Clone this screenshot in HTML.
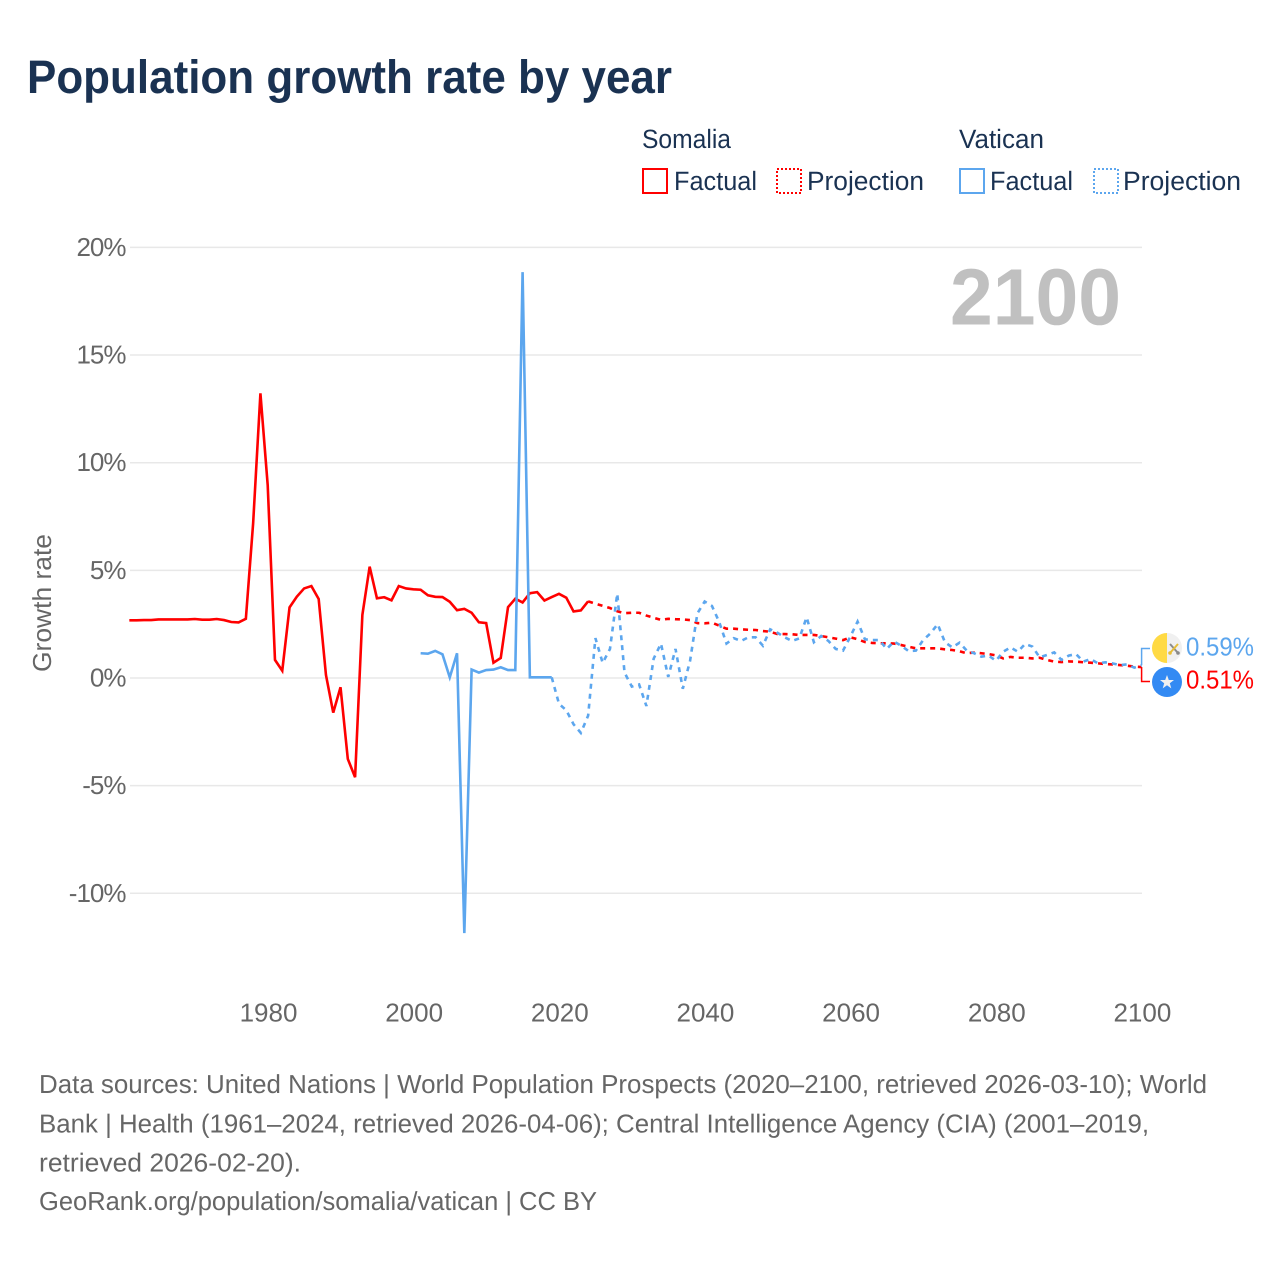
<!DOCTYPE html>
<html lang="en">
<head>
<meta charset="utf-8">
<title>Population growth rate by year</title>
<style>
html,body{margin:0;padding:0;background:#fff;}
svg{display:block;font-family:"Liberation Sans",sans-serif;text-rendering:geometricPrecision;}
</style>
</head>
<body>
<svg id="chart" width="1280" height="1280" viewBox="0 0 1280 1280" xmlns="http://www.w3.org/2000/svg">
  <rect width="1280" height="1280" fill="#fff"/>
  <text x="27" y="93" font-size="47" font-weight="700" fill="#1a3252" textLength="645" lengthAdjust="spacingAndGlyphs">Population growth rate by year</text>

  <g font-size="26.5" fill="#1a3252">
    <text x="642" y="148" textLength="89" lengthAdjust="spacingAndGlyphs">Somalia</text>
    <rect x="643" y="169" width="24" height="24" fill="none" stroke="#ff0000" stroke-width="2"/>
    <text x="674" y="190" textLength="83" lengthAdjust="spacingAndGlyphs">Factual</text>
    <rect x="777" y="169" width="24" height="24" fill="none" stroke="#ff0000" stroke-width="2" stroke-dasharray="2,2"/>
    <text x="807" y="190" textLength="117" lengthAdjust="spacingAndGlyphs">Projection</text>
    <text x="959" y="148" textLength="85" lengthAdjust="spacingAndGlyphs">Vatican</text>
    <rect x="960" y="169" width="24" height="24" fill="none" stroke="#5ca6ee" stroke-width="2"/>
    <text x="990" y="190" textLength="83" lengthAdjust="spacingAndGlyphs">Factual</text>
    <rect x="1094" y="169" width="24" height="24" fill="none" stroke="#5ca6ee" stroke-width="2" stroke-dasharray="2,2"/>
    <text x="1123" y="190" textLength="118" lengthAdjust="spacingAndGlyphs">Projection</text>
  </g>

  <g id="grid"></g>
  <g id="yticks"></g>
  <g id="xticks"></g>

  <text transform="translate(51,603) rotate(-90)" text-anchor="middle" font-size="26" fill="#666" textLength="138" lengthAdjust="spacingAndGlyphs">Growth rate</text>
  <text x="950" y="324.5" font-size="80" font-weight="700" fill="#c0c0c0" textLength="171" lengthAdjust="spacingAndGlyphs">2100</text>

  <g id="series"></g>
  <g id="connectors"></g>

  <g>
    <circle cx="1167" cy="648" r="15" fill="#f0f0f0"/>
    <path d="M1167 633 A15 15 0 0 0 1167 663 Z" fill="#ffda44"/>
    <path d="M1170 644 L1178 653" stroke="#8a8a8a" stroke-width="2"/>
    <circle cx="1178" cy="653" r="1.8" fill="#8a8a8a"/>
    <path d="M1178 644 L1170 653" stroke="#e6bd38" stroke-width="2"/>
    <circle cx="1170" cy="653" r="1.8" fill="#e6bd38"/>
  </g>
  <g>
    <circle cx="1167" cy="682" r="15" fill="#338af3"/>
    <polygon points="1167,675 1168.8,680 1174,680 1169.8,683.2 1171.3,688.4 1167,685.3 1162.7,688.4 1164.2,683.2 1160,680 1165.2,680" fill="#f0f0f0"/>
  </g>
  <g id="endlabels"></g>

  <g font-size="26" fill="#666">
    <text x="39" y="1093" textLength="1168" lengthAdjust="spacingAndGlyphs">Data sources: United Nations | World Population Prospects (2020–2100, retrieved 2026-03-10); World</text>
    <text x="39" y="1132.5" textLength="1110" lengthAdjust="spacingAndGlyphs">Bank | Health (1961–2024, retrieved 2026-04-06); Central Intelligence Agency (CIA) (2001–2019,</text>
    <text x="39" y="1171.5" textLength="262" lengthAdjust="spacingAndGlyphs">retrieved 2026-02-20).</text>
    <text x="39" y="1210" textLength="558" lengthAdjust="spacingAndGlyphs">GeoRank.org/population/somalia/vatican | CC BY</text>
  </g>
</svg>
<script>
const xTickYears = [1980, 2000, 2020, 2040, 2060, 2080, 2100];
const yTickValues = [20, 15, 10, 5, 0, -5, -10];
const yTickLabels = ["20%", "15%", "10%", "5%", "0%", "-5%", "-10%"];

const somaliaFactualStart = 1961;
const somaliaFactual = [2.68,2.68,2.69,2.69,2.72,2.72,2.72,2.72,2.72,2.74,2.71,2.71,2.74,2.69,2.60,2.58,2.75,7.18,13.22,8.96,0.84,0.34,3.28,3.78,4.16,4.27,3.67,0.14,-1.61,-0.43,-3.76,-4.61,2.93,5.17,3.70,3.75,3.61,4.27,4.16,4.12,4.10,3.84,3.77,3.76,3.54,3.15,3.21,3.03,2.59,2.55,0.71,0.93,3.29,3.68,3.51,3.94,3.99,3.60,3.76,3.91,3.73,3.09,3.14,3.56];

const somaliaProjectionStart = 2024;
const somaliaProjection = [3.56,3.45,3.35,3.25,3.10,3.01,3.03,3.03,2.90,2.80,2.70,2.75,2.73,2.72,2.69,2.55,2.54,2.57,2.43,2.29,2.29,2.26,2.24,2.23,2.18,2.15,2.04,2.04,2.03,2.00,2.00,2.00,1.95,1.89,1.83,1.76,1.89,1.80,1.67,1.63,1.61,1.61,1.60,1.53,1.45,1.38,1.38,1.38,1.38,1.33,1.30,1.24,1.15,1.18,1.15,1.11,1.05,0.91,0.98,0.94,0.94,0.91,0.94,0.84,0.76,0.74,0.77,0.76,0.73,0.71,0.68,0.65,0.63,0.60,0.57,0.53,0.51];

const vaticanFactualStart = 2001;
const vaticanFactual = [1.15,1.13,1.26,1.10,0.03,1.15,-11.85,0.39,0.25,0.37,0.39,0.50,0.37,0.37,18.85,0.03,0.03,0.03,0.03];

const vaticanProjectionStart = 2019;
const vaticanProjection = [0.03,-1.2,-1.5,-2.15,-2.55,-1.75,1.85,0.70,1.35,3.92,0.25,-0.40,-0.30,-1.30,0.90,1.60,0.05,1.35,-0.50,0.80,3.00,3.55,3.35,2.60,1.60,1.85,1.72,1.89,1.89,1.50,2.26,2.10,1.89,1.72,1.84,2.82,1.66,1.95,1.72,1.35,1.27,1.92,2.62,1.80,1.76,1.76,1.35,1.69,1.50,1.25,1.27,1.76,2.07,2.50,1.66,1.42,1.64,1.27,1.15,0.99,1.04,0.80,1.22,1.42,1.22,1.58,1.46,0.96,1.07,1.19,0.84,1.04,1.11,0.76,0.88,0.68,0.73,0.68,0.60,0.63,0.48,0.59];

const RED = "#ff0000";
const BLUE = "#5ca6ee";
const NS = "http://www.w3.org/2000/svg";

function xScale(year) { return 267.7 + (year - 1980) * (1141.6 - 267.7) / 120; }
function yScale(v) { return 678 - v * 21.53; }

function pathFor(values, startYear) {
  return values.map(function (v, i) {
    return (i ? "L" : "M") + xScale(startYear + i).toFixed(2) + " " + yScale(v).toFixed(2);
  }).join(" ");
}

const grid = document.getElementById("grid");
const yticks = document.getElementById("yticks");
yTickValues.forEach(function (v, i) {
  const line = document.createElementNS(NS, "line");
  
  
  line.setAttribute("x1", 130);
  line.setAttribute("x2", 1142);
  line.setAttribute("y1", yScale(v));
  line.setAttribute("y2", yScale(v));
  line.setAttribute("stroke", "#e8e8e8");
  line.setAttribute("stroke-width", 1.5);
  grid.appendChild(line);

  const t = document.createElementNS(NS, "text");
  
  
  t.setAttribute("x", 125.5);
  t.setAttribute("y", yScale(v) + 8.5);
  t.setAttribute("text-anchor", "end");
  t.setAttribute("font-size", 26);
  t.setAttribute("letter-spacing", "-1");
  t.setAttribute("fill", "#666");
  t.textContent = yTickLabels[i];
  yticks.appendChild(t);
});

const xticks = document.getElementById("xticks");
xTickYears.forEach(function (yr) {
  const t = document.createElementNS(NS, "text");
  
  
  t.setAttribute("x", xScale(yr) + 0.8);
  t.setAttribute("y", 1021.5);
  t.setAttribute("text-anchor", "middle");
  t.setAttribute("font-size", 26);
  t.setAttribute("fill", "#666");
  t.textContent = String(yr);
  xticks.appendChild(t);
});

const seriesGroup = document.getElementById("series");
function addLine(values, startYear, color, dashed) {
  const p = document.createElementNS(NS, "path");
  
  
  p.setAttribute("d", pathFor(values, startYear));
  p.setAttribute("fill", "none");
  p.setAttribute("stroke", color);
  p.setAttribute("stroke-width", 2.6);
  p.setAttribute("stroke-linejoin", "miter");
  if (dashed) p.setAttribute("stroke-dasharray", "5,5");
  seriesGroup.appendChild(p);
}
addLine(somaliaFactual, somaliaFactualStart, RED, false);
addLine(somaliaProjection, somaliaProjectionStart, RED, true);
addLine(vaticanFactual, vaticanFactualStart, BLUE, false);
addLine(vaticanProjection, vaticanProjectionStart, BLUE, true);

const lastVatican = vaticanProjection[vaticanProjection.length - 1];
const lastSomalia = somaliaProjection[somaliaProjection.length - 1];
const connectors = document.getElementById("connectors");
function addConnector(value, labelY, color, name) {
  const p = document.createElementNS(NS, "path");
  
  
  p.setAttribute("d", "M" + xScale(2100) + " " + yScale(value) + " V" + labelY + " H1150");
  p.setAttribute("fill", "none");
  p.setAttribute("stroke", color);
  p.setAttribute("stroke-width", 1.5);
  connectors.appendChild(p);
}
addConnector(lastVatican, 648.5, BLUE, "vatican-connector");
addConnector(lastSomalia, 681.5, RED, "somalia-connector");

const endlabels = document.getElementById("endlabels");
function addEndLabel(value, baseline, color, name) {
  const t = document.createElementNS(NS, "text");
  
  
  t.setAttribute("x", 1186);
  t.setAttribute("y", baseline);
  t.setAttribute("font-size", 26);
  t.setAttribute("fill", color);
  t.setAttribute("textLength", 68);
  t.setAttribute("lengthAdjust", "spacingAndGlyphs");
  t.textContent = value.toFixed(2) + "%";
  endlabels.appendChild(t);
}
addEndLabel(lastVatican, 655.5, BLUE, "vatican-end-value");
addEndLabel(lastSomalia, 688.5, RED, "somalia-end-value");
</script>
</body>
</html>
